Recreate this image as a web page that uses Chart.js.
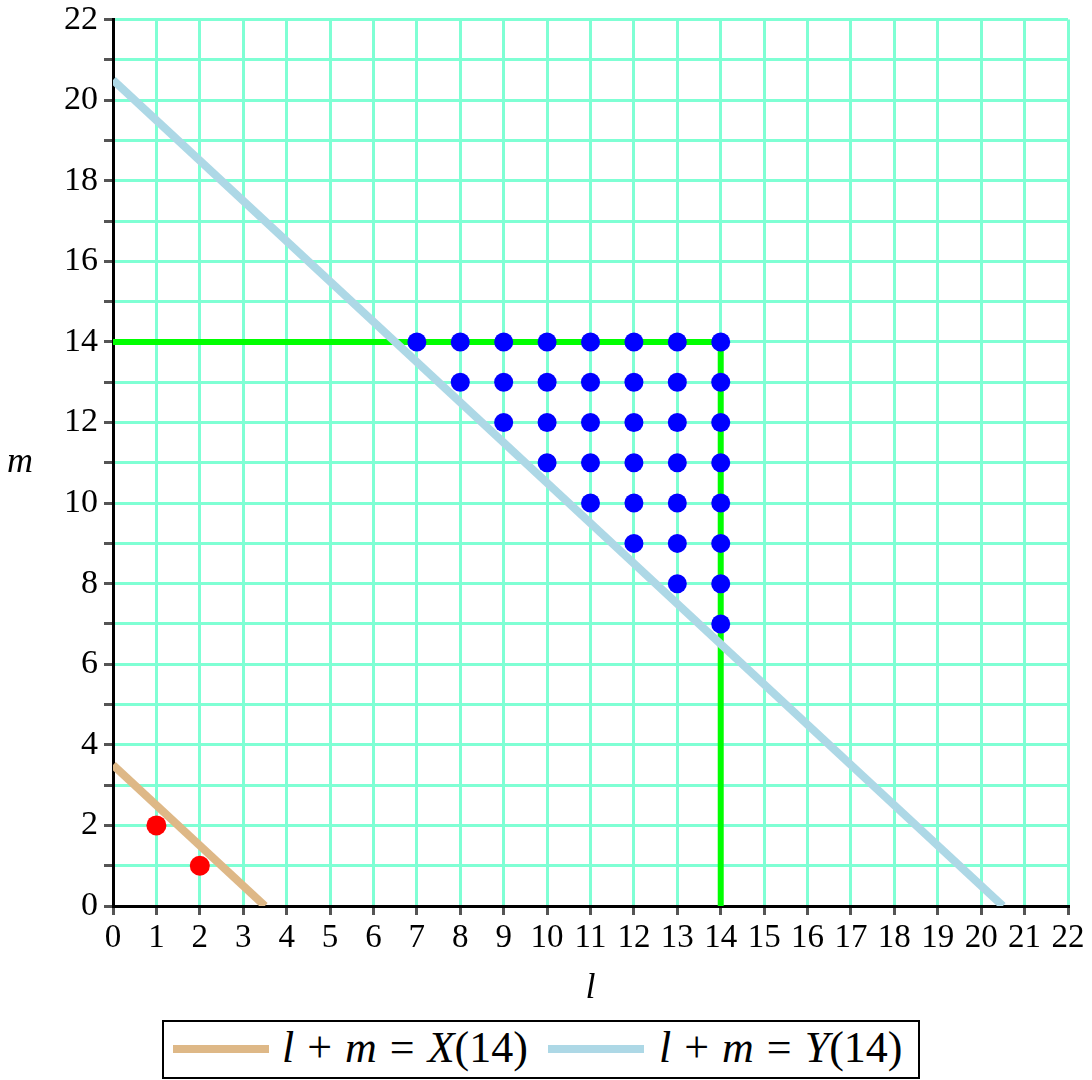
<!DOCTYPE html>
<html>
<head>
<meta charset="utf-8">
<script src="https://cdn.jsdelivr.net/npm/chart.js@4/dist/chart.umd.min.js"></script>
<style>
  body { margin: 0; background: #fff; }
  #wrap { position: relative; width: 1092px; height: 1080px; }
  #box { position: absolute; left: 0; top: 0; width: 1092px; height: 1010px; }
  #legend {
    position: absolute; left: 162px; top: 1020px; width: 754px; height: 55px;
    border: 2px solid #000;
    font-family: "Times New Roman", "Liberation Serif", Times, "DejaVu Serif", serif; font-size: 44px;
  }
  .sw { position: absolute; top: 23px; width: 96px; height: 8px; }
  .tx { position: absolute; top: -2px; white-space: nowrap; line-height: 55px; }
  .op { margin: 0 13px; }
  i { font-style: italic; }
</style>
</head>
<body>
<div id="wrap">
  <div id="box"><canvas id="mychart"></canvas></div>
  <div id="legend">
    <span class="sw" style="left:9px;background:#deb887"></span>
    <span class="tx" style="left:118px"><i>l</i><span class="op">+</span><i>m</i><span class="op">=</span><i>X</i>(14)</span>
    <span class="sw" style="left:384px;background:#add8e6"></span>
    <span class="tx" style="left:495px"><i>l</i><span class="op">+</span><i>m</i><span class="op">=</span><i>Y</i>(14)</span>
  </div>
</div>
<script>
// 点の座標 (l, m)
var redL = [1, 2];
var redM = [2, 1];
var blueL = [7, 8, 9, 10, 11, 12, 13, 14,
             8, 9, 10, 11, 12, 13, 14,
             9, 10, 11, 12, 13, 14,
             10, 11, 12, 13, 14,
             11, 12, 13, 14,
             12, 13, 14,
             13, 14,
             14];
var blueM = [14, 14, 14, 14, 14, 14, 14, 14,
             13, 13, 13, 13, 13, 13, 13,
             12, 12, 12, 12, 12, 12,
             11, 11, 11, 11, 11,
             10, 10, 10, 10,
             9, 9, 9,
             8, 8,
             7];
// 直線 l + m = X(14), l + m = Y(14)
var xLineL = [0, 3.5];
var xLineM = [3.5, 0];
var yLineL = [0, 20.5];
var yLineM = [20.5, 0];
// 緑の枠線
var greenL = [0, 14, 14];
var greenM = [14, 14, 0];

function pts(xs, ys) {
  var out = [];
  for (var i = 0; i < xs.length; i++) out.push({x: xs[i], y: ys[i]});
  return out;
}

var FONT = '"Times New Roman", "Liberation Serif", Times, "DejaVu Serif", serif';

var yTitle = {
  id: 'yTitle',
  afterDraw: function(chart) {
    var c = chart.ctx;
    c.save();
    c.font = 'italic 36px ' + FONT;
    c.fillStyle = '#000';
    c.textAlign = 'center';
    c.textBaseline = 'middle';
    c.fillText('m', 20, 463);
    c.restore();
  }
};

var ctx = document.getElementById('mychart');
var myChart = new Chart(ctx, {
  type: 'scatter',
  data: {
    datasets: [
      { label: 'Y', data: pts(yLineL, yLineM), showLine: true, borderColor: '#add8e6', borderWidth: 8,
        pointRadius: 0, order: 0 },
      { label: 'X', data: pts(xLineL, xLineM), showLine: true, borderColor: '#deb887', borderWidth: 8,
        pointRadius: 0, order: 1 },
      { label: 'red', data: pts(redL, redM), backgroundColor: '#ff0000', borderWidth: 0,
        pointRadius: 10, order: 2 },
      { label: 'blue', data: pts(blueL, blueM), backgroundColor: '#0000ff', borderWidth: 0,
        pointRadius: 9.5, order: 3 },
      { label: 'green', data: pts(greenL, greenM), showLine: true, borderColor: '#00ff00', borderWidth: 6,
        pointRadius: 0, order: 4 }
    ]
  },
  options: {
    responsive: true,
    maintainAspectRatio: false,
    animation: false,
    layout: { padding: { top: 10, right: 24, left: 0, bottom: 0 } },
    plugins: { legend: { display: false }, tooltip: { enabled: false } },
    scales: {
      x: {
        type: 'linear', min: 0, max: 22,
        ticks: { stepSize: 1, color: '#000', font: { family: FONT, size: 33 }, padding: 4, maxRotation: 0, autoSkip: false },
        grid: { color: '#7fffd4', lineWidth: 3, tickColor: '#555', tickLength: 9 },
        border: { color: '#000', width: 3 },
        title: { display: true, text: 'l', color: '#000', font: { family: FONT, size: 36, style: 'italic' }, padding: 0 },
        afterFit: function(s) { s.height = 104; }
      },
      y: {
        type: 'linear', min: 0, max: 22,
        ticks: { stepSize: 1, color: '#000', font: { family: FONT, size: 34, lineHeight: 0.8 }, padding: 6, autoSkip: false,
                 callback: function(v) { return v % 2 === 0 ? v : ''; } },
        grid: { color: '#7fffd4', lineWidth: 3, tickColor: '#555', tickLength: 9 },
        border: { color: '#000', width: 3 },
        afterFit: function(s) { s.width = 113; }
      }
    }
  },
  plugins: [yTitle]
});
</script>
</body>
</html>
